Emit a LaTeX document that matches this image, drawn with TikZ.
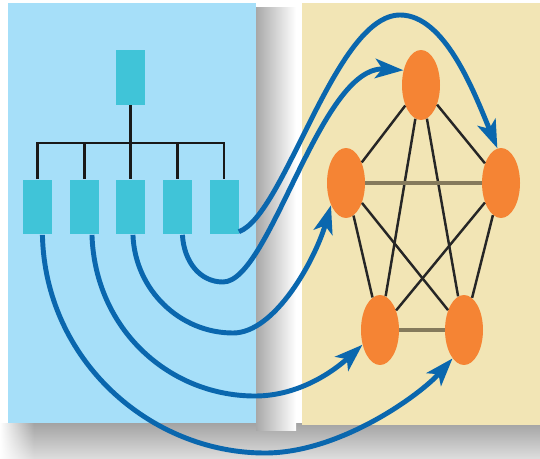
\documentclass[tikz,border=0pt]{standalone}
\usepackage{tikz}
\usetikzlibrary{
        arrows.meta,
        fadings,
        shapes.geometric
    }
\definecolor{skyblue}{HTML}{A6DFF9}
\definecolor{tealbox}{HTML}{40C4D8}
\definecolor{sand}{HTML}{F2E5B5}
\definecolor{peer}{HTML}{F58434}
\definecolor{flow}{HTML}{0A67AE}
\definecolor{rung}{HTML}{857A5C}
\tikzset{
    unit/.style={fill=tealbox,minimum width=0.58cm,minimum height=1.1cm,inner sep=0pt},
    peernode/.style={ellipse,fill=peer,minimum width=0.76cm,minimum height=1.4cm,inner sep=0pt},
    treeline/.style={line width=1.7pt,draw=black!90},
    peerlink/.style={line width=1.4pt,draw=black!85},
    peerbus/.style={line width=2.3pt,draw=rung},
    flowarrow/.style={flow,line width=2.8pt,-{Stealth[length=16pt,width=11pt,inset=4pt]}}
}

\begin{document}
\begin{tikzpicture}[x=0.02cm,y=-0.02cm]
                \useasboundingbox (0,0) rectangle (540,459);
                \fill[white] (0,0) rectangle (540,459);
                % soft shadows under the panels
                \shade[top color=black!36,bottom color=black!13] (0,423) rectangle (540,459);
                \fill[white,path fading=east] (0,423) rectangle (34,459);
                \shade[left color=black!34,right color=white] (256,8) rectangle (296,430);
                % the two panels
                \fill[skyblue] (8,3) rectangle (256,423);
                \fill[sand] (302,3) rectangle (540,425);
                % hierarchy on the left
                \node[unit] (top) at (130.5,77.5) {};
                \foreach \i/\x in {1/37.5,2/84.5,3/130.5,4/177.5,5/224}
                        \node[unit] (b\i) at (\x,207) {};
                \coordinate (bar) at (130.5,143);
                \draw[treeline] (b1.north) |- (bar) -| (b5.north);
                \draw[treeline] (top.south) -- (b3.north);
                \foreach \i in {2,4}
                        \draw[treeline] (b\i.north |- bar) -- (b\i.north);
                % peers on the right
                \node[peernode] (nt)  at (421,85)  {};
                \node[peernode] (nl)  at (346,183) {};
                \node[peernode] (nr)  at (501,183) {};
                \node[peernode] (nbl) at (380,330) {};
                \node[peernode] (nbr) at (464,330) {};
                \path[peerlink]
                        (nt)  edge (nl)
                        (nt)  edge (nr)
                        (nt)  edge (nbl)
                        (nt)  edge (nbr)
                        (nl)  edge (nbl)
                        (nl)  edge (nbr)
                        (nr)  edge (nbl)
                        (nr)  edge (nbr)
                ;
                \path[peerbus]
                        (nl)  edge (nr)
                        (nbl) edge (nbr)
                ;
                % moves from the boxes to the peers
                \draw[flowarrow] (b5.-59) .. controls (285,215) and (335,15) .. (400,15)
                        .. controls (445,15) and (474,92) .. (nr.96);
                \draw[flowarrow] (b4.-80) .. controls (184,262) and (200,282) .. (223,282)
                        .. controls (270,282) and (320,65) .. (nt.140);
                \draw[flowarrow] (b3.-85) .. controls (135,290) and (180,333) .. (233,333)
                        .. controls (275,333) and (315,260) .. (nl.-124);
                \draw[flowarrow] (b2.-75) .. controls (95,330) and (170,396) .. (255,396)
                        .. controls (300,396) and (335,370) .. (nbl.-140);
                \draw[flowarrow] (b1.-80) .. controls (45,360) and (150,453) .. (265,453)
                        .. controls (340,453) and (420,395) .. (nbr.-112);
\end{tikzpicture}
\end{document}
